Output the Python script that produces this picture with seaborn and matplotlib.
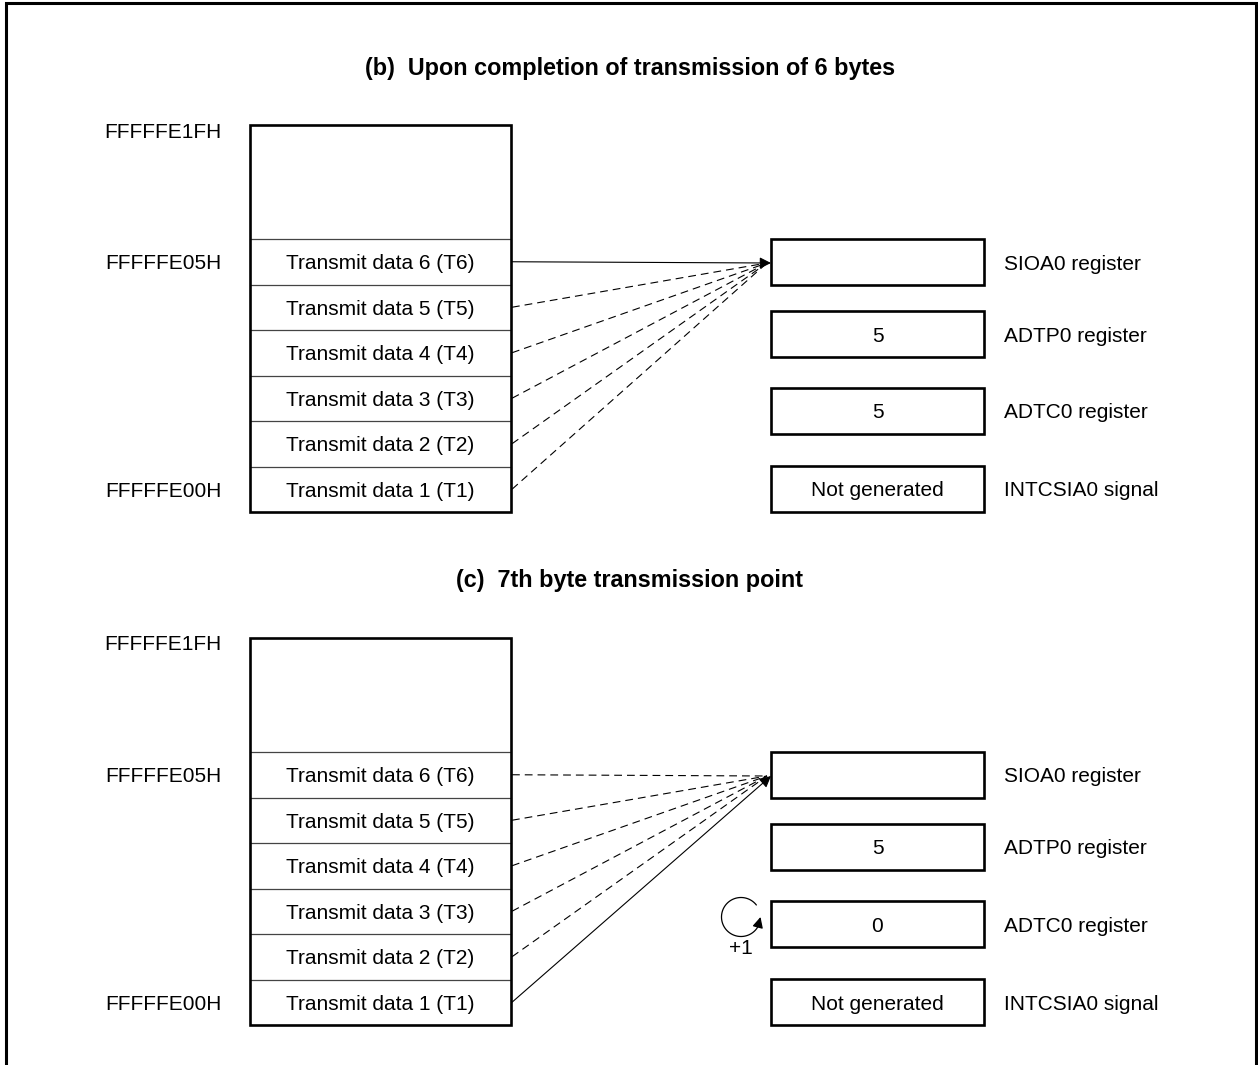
import numpy as np
import matplotlib
matplotlib.use("Agg")
import matplotlib.pyplot as plt
import seaborn as sns
from matplotlib.patches import Rectangle

sns.set_theme(style="white", rc={"text.color": "black"})
plt.rcParams['font.family'] = ['Liberation Sans', 'DejaVu Sans']

# ---- diagram content ----
TITLES = ["(b)  Upon completion of transmission of 6 bytes",
          "(c)  7th byte transmission point"]
ADDRESSES = ["FFFFFE1FH", "FFFFFE05H", "FFFFFE00H"]
CELLS = ["Transmit data 6 (T6)", "Transmit data 5 (T5)", "Transmit data 4 (T4)",
         "Transmit data 3 (T3)", "Transmit data 2 (T2)", "Transmit data 1 (T1)"]
REGISTERS = ["SIOA0 register", "ADTP0 register", "ADTC0 register", "INTCSIA0 signal"]
VALUES_B = ["", "5", "5", "Not generated"]
VALUES_C = ["", "5", "0", "Not generated"]
SOLID_CELL = ["Transmit data 6 (T6)", "Transmit data 1 (T1)"]
COUNTER_MARK = [False, True]

# ---- layout (pixels) ----
W, H = 1258, 1065
PANEL_DY = 513
MEM_X0, MEM_X1 = 250, 511
MEM_TOP, ROW_TOP, ROW_H = 125, 239, 45.5
REG_X0, REG_X1 = 771, 984
REG_TOPS = [239, 311, 388, 466]
REG_H = 46
FS = 15
TXT_DY = 2

fig = plt.figure(figsize=(W / 100, H / 100), dpi=100)
ax = fig.add_axes([0, 0, 1, 1])
ax.set_xlim(0, W)
ax.set_ylim(H, 0)
ax.axis("off")

# outer frame, open at the bottom
ax.plot([5.5, 5.5, 1255.5, 1255.5], [H, 2.5, 2.5, H], color="black", lw=2.2,
        solid_joinstyle="miter")


def draw_panel(k, values):
    dy = k * PANEL_DY
    ax.text(630, 68 + dy, TITLES[k], ha="center", va="center", fontsize=16.8,
            fontweight="bold")

    # memory block
    bottom = ROW_TOP + ROW_H * len(CELLS)
    for i, cell in enumerate(CELLS):
        top = ROW_TOP + i * ROW_H + dy
        ax.plot([MEM_X0, MEM_X1], [top, top], color="#444444", lw=0.9)
        ax.text((MEM_X0 + MEM_X1) / 2, top + ROW_H / 2 + TXT_DY, cell,
                ha="center", va="center", fontsize=FS)
    ax.add_patch(Rectangle((MEM_X0, MEM_TOP + dy), MEM_X1 - MEM_X0,
                           bottom - MEM_TOP, fill=False, lw=1.9, ec="black", zorder=3))

    addr_y = [MEM_TOP + 5, ROW_TOP + ROW_H / 2, bottom - ROW_H / 2]
    for a, y in zip(ADDRESSES, addr_y):
        ax.text(163, y + dy + TXT_DY, a, ha="center", va="center", fontsize=FS)

    # registers
    for top, name, val in zip(REG_TOPS, REGISTERS, values):
        ax.add_patch(Rectangle((REG_X0, top + dy), REG_X1 - REG_X0, REG_H,
                               fill=False, lw=1.9, ec="black", zorder=3))
        yc = top + REG_H / 2 + dy + TXT_DY
        if val:
            ax.text((REG_X0 + REG_X1) / 2, yc, val, ha="center", va="center",
                    fontsize=FS)
        ax.text(1004, yc, name, ha="left", va="center", fontsize=FS)

    # data paths into SIOA0
    tip = (REG_X0, REG_TOPS[0] + REG_H / 2 + 1 + dy)
    for i, cell in enumerate(CELLS):
        y0 = ROW_TOP + i * ROW_H + ROW_H / 2 + dy
        if cell == SOLID_CELL[k]:
            ax.annotate("", xy=tip, xytext=(MEM_X1 + 1, y0),
                        arrowprops=dict(arrowstyle="-|>", lw=0.8, color="black",
                                        mutation_scale=17, shrinkA=0, shrinkB=0))
        else:
            ax.plot([MEM_X1 + 1, tip[0] - 4], [y0, tip[1]], color="black", lw=0.8,
                    linestyle=(0, (7, 4.5)))

    # counter increment mark next to ADTC0
    if COUNTER_MARK[k]:
        cx, cy, r = 741, 917, 19.5
        th = np.radians(np.linspace(38, 335, 80))
        ax.plot(cx + r * np.cos(th), cy - r * np.sin(th), color="black", lw=0.9)
        a0, a1 = np.radians(330), np.radians(360)
        ax.annotate("", xy=(cx + r * np.cos(a1), cy - r * np.sin(a1)),
                    xytext=(cx + r * np.cos(a0), cy - r * np.sin(a0)),
                    arrowprops=dict(arrowstyle="-|>", lw=0.9, color="black",
                                    mutation_scale=16, shrinkA=0, shrinkB=0))
        ax.text(cx, cy + 31, "+1", ha="center", va="center", fontsize=FS)


draw_panel(0, VALUES_B)
draw_panel(1, VALUES_C)

fig.savefig("out.png", dpi=100, facecolor="white")
